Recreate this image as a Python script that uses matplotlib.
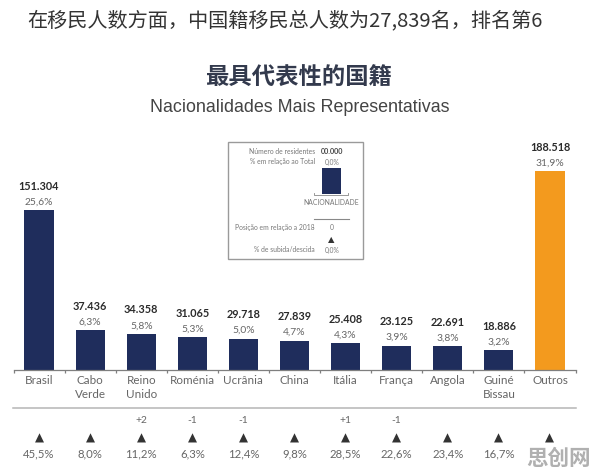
import matplotlib
matplotlib.use("Agg")
import matplotlib.pyplot as plt
from matplotlib.patches import Rectangle
from matplotlib.lines import Line2D

plt.rcParams['font.family'] = ['Lato', 'Noto Sans CJK SC', 'DejaVu Sans']

categories = ["Brasil", "Cabo\nVerde", "Reino\nUnido", "Roménia", "Ucrânia", "China",
              "Itália", "França", "Angola", "Guiné\nBissau", "Outros"]
residents = [151304, 37436, 34358, 31065, 29718, 27839, 25408, 23125, 22691, 18886, 188518]
value_labels = ["151.304", "37.436", "34.358", "31.065", "29.718", "27.839",
                "25.408", "23.125", "22.691", "18.886", "188.518"]
share_labels = ["25,6%", "6,3%", "5,8%", "5,3%", "5,0%", "4,7%", "4,3%", "3,9%", "3,8%", "3,2%", "31,9%"]
position_changes = ["", "", "+2", "-1", "-1", "", "+1", "-1", "", "", ""]
growth_labels = ["45,5%", "8,0%", "11,2%", "6,3%", "12,4%", "9,8%", "28,5%", "22,6%", "23,4%", "16,7%", ""]

NAVY = "#1f2d5c"
ORANGE = "#f39a1e"
GREY = "#666666"
W, H = 596, 477

def fx(px): return px / W
def fy(py): return 1 - py / H

fig = plt.figure(figsize=(W / 100, H / 100), dpi=100, facecolor="white")
ax = fig.add_axes([fx(13.5), fy(371), (575.5 - 13.5) / W, (371 - 172) / H])
x = list(range(len(categories)))
colors = [NAVY] * 10 + [ORANGE]
ax.bar(x, residents, width=0.57, color=colors, edgecolor="none")
ax.set_xlim(-0.5, 10.5)
ax.set_ylim(0, max(residents))
ax.yaxis.set_visible(False)
for s in ("top", "left", "right"):
    ax.spines[s].set_visible(False)
ax.spines["bottom"].set_color("#7f7f7f")
ax.spines["bottom"].set_linewidth(0.9)
ax.set_xticks([i - 0.5 for i in range(12)])
ax.set_xticklabels([])
ax.tick_params(axis="x", direction="out", length=2, width=0.9, color="#7f7f7f")

for i, val in enumerate(residents):
    ax.annotate(share_labels[i], (i, val), xytext=(0, 3.2), textcoords="offset points",
                ha="center", va="bottom", fontsize=7.4, color=GREY)
    ax.annotate(value_labels[i], (i, val), xytext=(0, 14), textcoords="offset points",
                ha="center", va="bottom", fontsize=7.8, fontweight="bold", color="#2b2b2b")

blend = matplotlib.transforms.blended_transform_factory(ax.transData, fig.transFigure)
for i, c in enumerate(categories):
    fig.text(i, fy(375), c, transform=blend, ha="center", va="top", fontsize=8.4,
             color=GREY, linespacing=1.28)
    if position_changes[i]:
        fig.text(i, fy(421), position_changes[i], transform=blend, ha="center", va="center",
                 fontsize=7.4, color=GREY)
    fig.text(i, fy(438), "▲", transform=blend, ha="center", va="center", fontsize=8.5,
             color="#333333", family="DejaVu Sans")
    if growth_labels[i]:
        fig.text(i, fy(454), growth_labels[i], transform=blend, ha="center", va="center",
                 fontsize=8.2, color=GREY)

fig.add_artist(Line2D([fx(13), fx(576)], [fy(409), fy(409)], color="#b5b5b5", lw=1.1))

# Header
fig.text(fx(27), fy(20.5), "在移民人数方面，中国籍移民总人数为27,839名，排名第6", ha="left", va="center",
         fontsize=14.5, color="#333333", family=["Noto Sans CJK SC", "DejaVu Sans"])
fig.text(fx(299), fy(77.5), "最具代表性的国籍", ha="center", va="center", fontsize=16.8,
         fontweight="bold", color="#333a4d", family=["Noto Sans CJK SC", "DejaVu Sans"])
fig.text(fx(300), fy(108), "Nacionalidades Mais Representativas", ha="center", va="center",
         fontsize=12.9, color="#444444", family="Liberation Sans")

# Explanatory key
fig.add_artist(Rectangle((fx(228), fy(260)), 135 / W, 117 / H, transform=fig.transFigure,
                         fill=False, edgecolor="#9a9a9a", lw=1))
key_ax = fig.add_axes([fx(322), fy(195), 19 / W, 26 / H])
key_ax.bar([0], [1], width=1, color=NAVY)
key_ax.set_xlim(-0.5, 0.5)
key_ax.set_ylim(0, 1)
key_ax.axis("off")
small = dict(fontsize=4.9, color="#777777", va="center")
fig.text(fx(315), fy(152), "Número de residentes", ha="right", **small)
fig.text(fx(332), fy(152), "00.000", ha="center", fontsize=5.2, fontweight="bold",
         color="#444444", va="center")
fig.text(fx(315), fy(162), "% em relação ao Total", ha="right", **small)
fig.text(fx(332), fy(162), "0,0%", ha="center", **small)
fig.text(fx(331), fy(203), "NACIONALIDADE", ha="center", **small)
fig.add_artist(Line2D([fx(314), fx(314), fx(348), fx(348)],
                      [fy(194), fy(196), fy(196), fy(194)], color="#888888", lw=0.6))
fig.add_artist(Line2D([fx(314), fx(349)], [fy(220), fy(220)], color="#888888", lw=0.8))
fig.text(fx(315), fy(228), "Posição em relação a 2018", ha="right", **small)
fig.text(fx(332), fy(228), "0", ha="center", **small)
fig.text(fx(331), fy(240), "▲", ha="center", va="center", fontsize=6, color="#333333",
         family="DejaVu Sans")
fig.text(fx(315), fy(250), "% de subida/descida", ha="right", **small)
fig.text(fx(332), fy(250), "0,0%", ha="center", **small)

# Watermark
fig.text(fx(558.5), fy(458), "思创网", ha="center", va="center", fontsize=15.5, fontweight="bold",
         color="#b0b0b0", family=["Noto Sans CJK SC", "DejaVu Sans"])

fig.savefig("out.png", dpi=100, facecolor="white")
